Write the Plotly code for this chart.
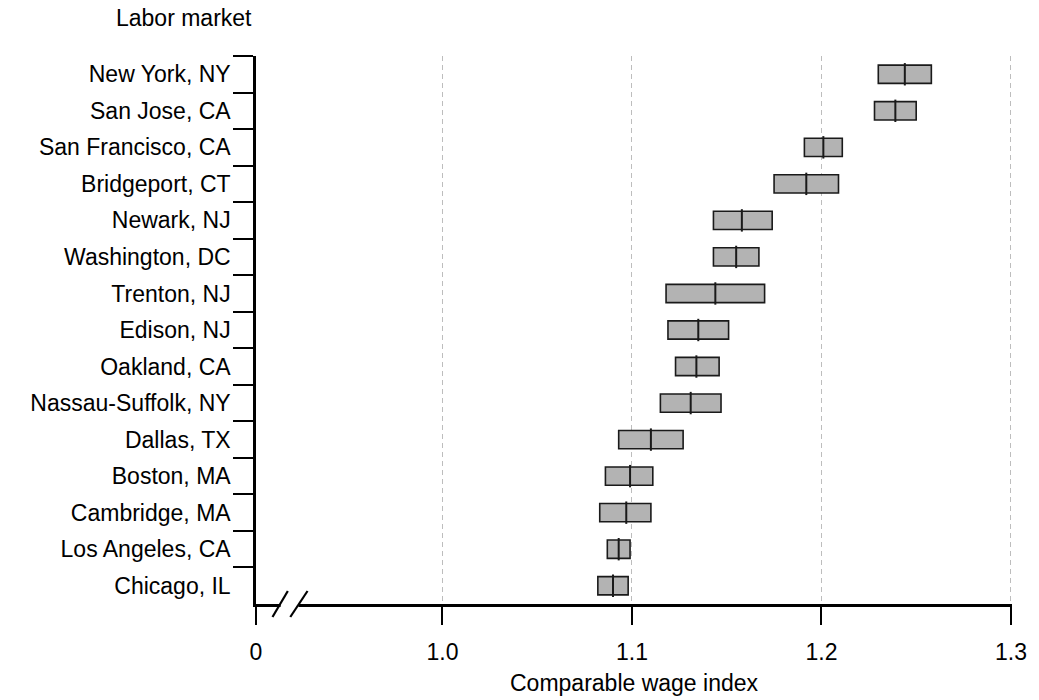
import plotly.graph_objects as go

# Labor markets, top to bottom
markets = [
    "New York, NY", "San Jose, CA", "San Francisco, CA", "Bridgeport, CT",
    "Newark, NJ", "Washington, DC", "Trenton, NJ", "Edison, NJ",
    "Oakland, CA", "Nassau-Suffolk, NY", "Dallas, TX", "Boston, MA",
    "Cambridge, MA", "Los Angeles, CA", "Chicago, IL",
]
# Comparable wage index: lower bound, point estimate, upper bound
low = [1.230, 1.228, 1.191, 1.175, 1.143, 1.143, 1.118, 1.119,
       1.123, 1.115, 1.093, 1.086, 1.083, 1.087, 1.082]
est = [1.244, 1.239, 1.201, 1.192, 1.158, 1.155, 1.144, 1.135,
       1.134, 1.131, 1.110, 1.099, 1.097, 1.093, 1.090]
high = [1.258, 1.250, 1.211, 1.209, 1.174, 1.167, 1.170, 1.151,
        1.146, 1.147, 1.127, 1.111, 1.110, 1.099, 1.098]

# The x axis is broken: its origin (labelled 0) sits just left of 1.0
axis_origin = 0.9016
tick_vals = [axis_origin, 1.0, 1.1, 1.2, 1.3]
tick_text = ["0", "1.0", "1.1", "1.2", "1.3"]

FONT = "Arial, Liberation Sans, Helvetica, sans-serif"
FS = 23

fig = go.Figure()

# Range boxes from lower to upper bound
fig.add_trace(go.Bar(
    y=markets,
    x=[h - l for l, h in zip(low, high)],
    base=low,
    orientation="h",
    width=0.5,
    marker=dict(color="#b3b3b3", line=dict(color="#1a1a1a", width=1.6)),
    hoverinfo="skip",
    showlegend=False,
))

# Point estimate drawn as a divider inside each box
fig.add_trace(go.Scatter(
    y=markets,
    x=est,
    mode="markers",
    marker=dict(symbol="line-ns", size=16, line=dict(color="#1a1a1a", width=2)),
    hoverinfo="skip",
    showlegend=False,
))

# Axis break: blank out a short stretch of the x axis line and add two slashes
gap = (0.9146, 0.9240)
fig.add_shape(type="rect", xref="x", yref="paper", x0=gap[0], x1=gap[1],
              ysizemode="pixel", yanchor=0, y0=-3, y1=3,
              fillcolor="white", line=dict(width=0), layer="above")
for x0, x1 in [(0.9103, 0.9184), (0.9197, 0.9288)]:
    fig.add_shape(type="line", xref="x", yref="paper", x0=x0, x1=x1,
                  ysizemode="pixel", yanchor=0, y0=-13, y1=13,
                  line=dict(color="black", width=2.2), layer="above")

fig.add_annotation(text="Labor market", xref="paper", yref="paper",
                   x=-0.0953, y=1.0693, xanchor="center", yanchor="middle",
                   showarrow=False, font=dict(family=FONT, size=FS, color="black"))
fig.add_annotation(text="Comparable wage index", xref="paper", yref="paper",
                   x=0.5, y=-0.144, xanchor="center", yanchor="middle",
                   showarrow=False, font=dict(family=FONT, size=FS, color="black"))

fig.update_layout(
    width=1039, height=700,
    margin=dict(l=256, r=17, t=56, b=96),
    paper_bgcolor="white", plot_bgcolor="white",
    font=dict(family=FONT, size=FS, color="black"),
    bargap=0.5,
    xaxis=dict(
        range=[axis_origin, 1.30056],
        tickmode="array", tickvals=tick_vals, ticktext=tick_text,
        showgrid=True, gridcolor="#bdbdbd", gridwidth=1, griddash="5px,4px",
        showline=True, linecolor="black", linewidth=2.5,
        ticks="outside", ticklen=18, tickwidth=1.5, tickcolor="black",
        ticklabelstandoff=8,
        zeroline=False, fixedrange=True,
    ),
    yaxis=dict(
        type="category",
        categoryorder="array", categoryarray=markets,
        range=[14.5, -0.5],
        showgrid=False, zeroline=False,
        showline=True, linecolor="black", linewidth=2.5,
        ticks="outside", ticklen=20, tickwidth=1.5, tickcolor="black",
        tickson="boundaries",
        ticklabelstandoff=18,
        fixedrange=True,
    ),
)

fig.write_html("out.html")
